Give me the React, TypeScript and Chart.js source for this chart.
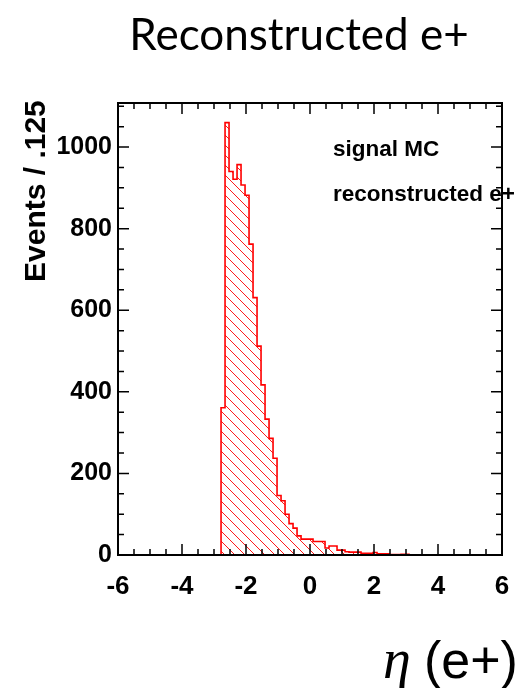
import React, { useEffect, useRef } from 'react';
import { Chart, registerables } from 'chart.js';

Chart.register(...registerables);

// ---- data ----
const BIN_START = -2.78;
const BIN_WIDTH = 0.125;
const binCounts = [
  361, 1060, 940, 921, 957, 907, 882, 762, 631, 512, 417, 333, 286, 237, 146, 133,
  100, 77, 66, 47, 39, 39, 39, 33, 33, 33, 17, 22, 22, 12, 12, 8, 7, 7, 7, 4, 4, 4,
  6, 3, 3, 3, 1, 1, 1, 2, 2,
];
const X_MIN = -6;
const X_MAX = 6;
const Y_MIN = 0;
const Y_MAX = 1108;
const xTickValues = [-6, -4, -2, 0, 2, 4, 6];
const yTickValues = [0, 200, 400, 600, 800, 1000];
const X_MINOR_STEP = 0.5;
const Y_MINOR_STEP = 50;
const X_MAJOR_STEP = 2;
const Y_MAJOR_STEP = 200;

const chartTitle = 'Reconstructed e+';
const yAxisTitle = 'Events / .125';
const legendLines = ['signal MC', 'reconstructed e+'];
const xTitleSymbol = 'η';
const xTitleRest = '(e+)';

const SANS = '"Liberation Sans", Arial, Helvetica, sans-serif';

function buildPoints() {
  const pts: { x: number; y: number }[] = [{ x: X_MIN, y: 0 }];
  binCounts.forEach((v, i) => pts.push({ x: BIN_START + i * BIN_WIDTH, y: v }));
  pts.push({ x: BIN_START + binCounts.length * BIN_WIDTH, y: 0 });
  pts.push({ x: X_MAX, y: 0 });
  return pts;
}

function makeHatch(): CanvasPattern | string {
  const c = document.createElement('canvas');
  const s = 10;
  c.width = s;
  c.height = s;
  const g = c.getContext('2d');
  if (!g) return 'rgba(255,0,0,0.2)';
  g.strokeStyle = 'rgba(255,0,0,0.9)';
  g.lineWidth = 1;
  g.beginPath();
  for (const off of [-s, 0, s]) {
    g.moveTo(-1 + off, -1);
    g.lineTo(s + 1 + off, s + 1);
  }
  g.stroke();
  const p = g.createPattern(c, 'repeat');
  return p || 'rgba(255,0,0,0.2)';
}

const decorPlugin = {
  id: 'decor',
  afterDraw(chart: any) {
    const { ctx, chartArea: a, scales } = chart;
    const xs = scales.x;
    const ys = scales.y;
    ctx.save();
    // frame
    ctx.strokeStyle = '#000';
    ctx.lineWidth = 2;
    ctx.strokeRect(a.left, a.top, a.right - a.left, a.bottom - a.top);
    // inward ticks
    ctx.lineWidth = 1.5;
    ctx.beginPath();
    const nx = Math.round((X_MAX - X_MIN) / X_MINOR_STEP);
    for (let i = 0; i <= nx; i++) {
      const v = X_MIN + i * X_MINOR_STEP;
      const px = xs.getPixelForValue(v);
      const major = Math.abs(v / X_MAJOR_STEP - Math.round(v / X_MAJOR_STEP)) < 1e-6;
      const len = major ? 11 : 6;
      ctx.moveTo(px, a.bottom);
      ctx.lineTo(px, a.bottom - len);
      ctx.moveTo(px, a.top);
      ctx.lineTo(px, a.top + len);
    }
    const ny = Math.floor((Y_MAX - Y_MIN) / Y_MINOR_STEP);
    for (let i = 0; i <= ny; i++) {
      const v = Y_MIN + i * Y_MINOR_STEP;
      const py = ys.getPixelForValue(v);
      const major = v % Y_MAJOR_STEP === 0;
      const len = major ? 11 : 6;
      ctx.moveTo(a.left, py);
      ctx.lineTo(a.left + len, py);
      ctx.moveTo(a.right, py);
      ctx.lineTo(a.right - len, py);
    }
    ctx.stroke();

    ctx.fillStyle = '#000';
    // title
    ctx.font = '44px Lato, "Open Sans", sans-serif';
    ctx.textAlign = 'center';
    ctx.textBaseline = 'alphabetic';
    ctx.fillText(chartTitle, 299, 50);

    // legend text
    ctx.font = `bold 22.5px ${SANS}`;
    ctx.textAlign = 'left';
    ctx.fillText(legendLines[0], 333, 156);
    ctx.fillText(legendLines[1], 333, 201);

    // y title
    ctx.save();
    ctx.translate(45, 282);
    ctx.rotate(-Math.PI / 2);
    ctx.font = `bold 30px ${SANS}`;
    ctx.textAlign = 'left';
    ctx.fillText(yAxisTitle, 0, 0);
    ctx.restore();

    // x title
    ctx.textAlign = 'left';
    ctx.font = 'italic 56px "Liberation Serif", "DejaVu Serif", serif';
    ctx.fillText(xTitleSymbol, 383, 678);
    ctx.font = `52px ${SANS}`;
    ctx.fillText(xTitleRest, 424, 678);
    ctx.restore();
  },
};

export default function App() {
  const ref = useRef<HTMLCanvasElement | null>(null);
  useEffect(() => {
    if (!ref.current) return;
    const chart = new Chart(ref.current, {
      type: 'line',
      data: {
        datasets: [
          {
            data: buildPoints(),
            stepped: 'before',
            borderColor: 'rgb(255,0,0)',
            borderWidth: 1.6,
            pointRadius: 0,
            fill: 'origin',
            backgroundColor: makeHatch() as any,
          },
        ],
      },
      options: {
        animation: false,
        responsive: false,
        maintainAspectRatio: false,
        layout: { padding: { left: 0, right: 30, top: 103, bottom: 0 } },
        plugins: {
          legend: { display: false },
          tooltip: { enabled: false },
          title: { display: false },
        },
        scales: {
          x: {
            type: 'linear',
            min: X_MIN,
            max: X_MAX,
            afterBuildTicks: (axis: any) => {
              axis.ticks = xTickValues.map((v) => ({ value: v }));
            },
            afterFit: (s: any) => {
              s.height = 133;
            },
            ticks: {
              autoSkip: false,
              maxRotation: 0,
              padding: 16,
              color: '#000',
              font: { family: SANS, size: 26, weight: 'bold' },
              callback: (v: any) => String(v),
            },
            grid: { display: false, drawTicks: false },
            border: { display: false },
          },
          y: {
            type: 'linear',
            min: Y_MIN,
            max: Y_MAX,
            afterBuildTicks: (axis: any) => {
              axis.ticks = yTickValues.map((v) => ({ value: v }));
            },
            afterFit: (s: any) => {
              s.width = 118;
            },
            ticks: {
              autoSkip: false,
              padding: 6,
              color: '#000',
              font: { family: SANS, size: 25, weight: 'bold' },
              callback: (v: any) => String(v),
            },
            grid: { display: false, drawTicks: false },
            border: { display: false },
          },
        },
      },
      plugins: [decorPlugin],
    });
    return () => chart.destroy();
  }, []);
  return (
    <div style={{ position: 'fixed', left: 0, top: 0, width: 532, height: 688, background: '#fff' }}>
      <canvas ref={ref} width={532} height={688} style={{ display: 'block' }} />
    </div>
  );
}
